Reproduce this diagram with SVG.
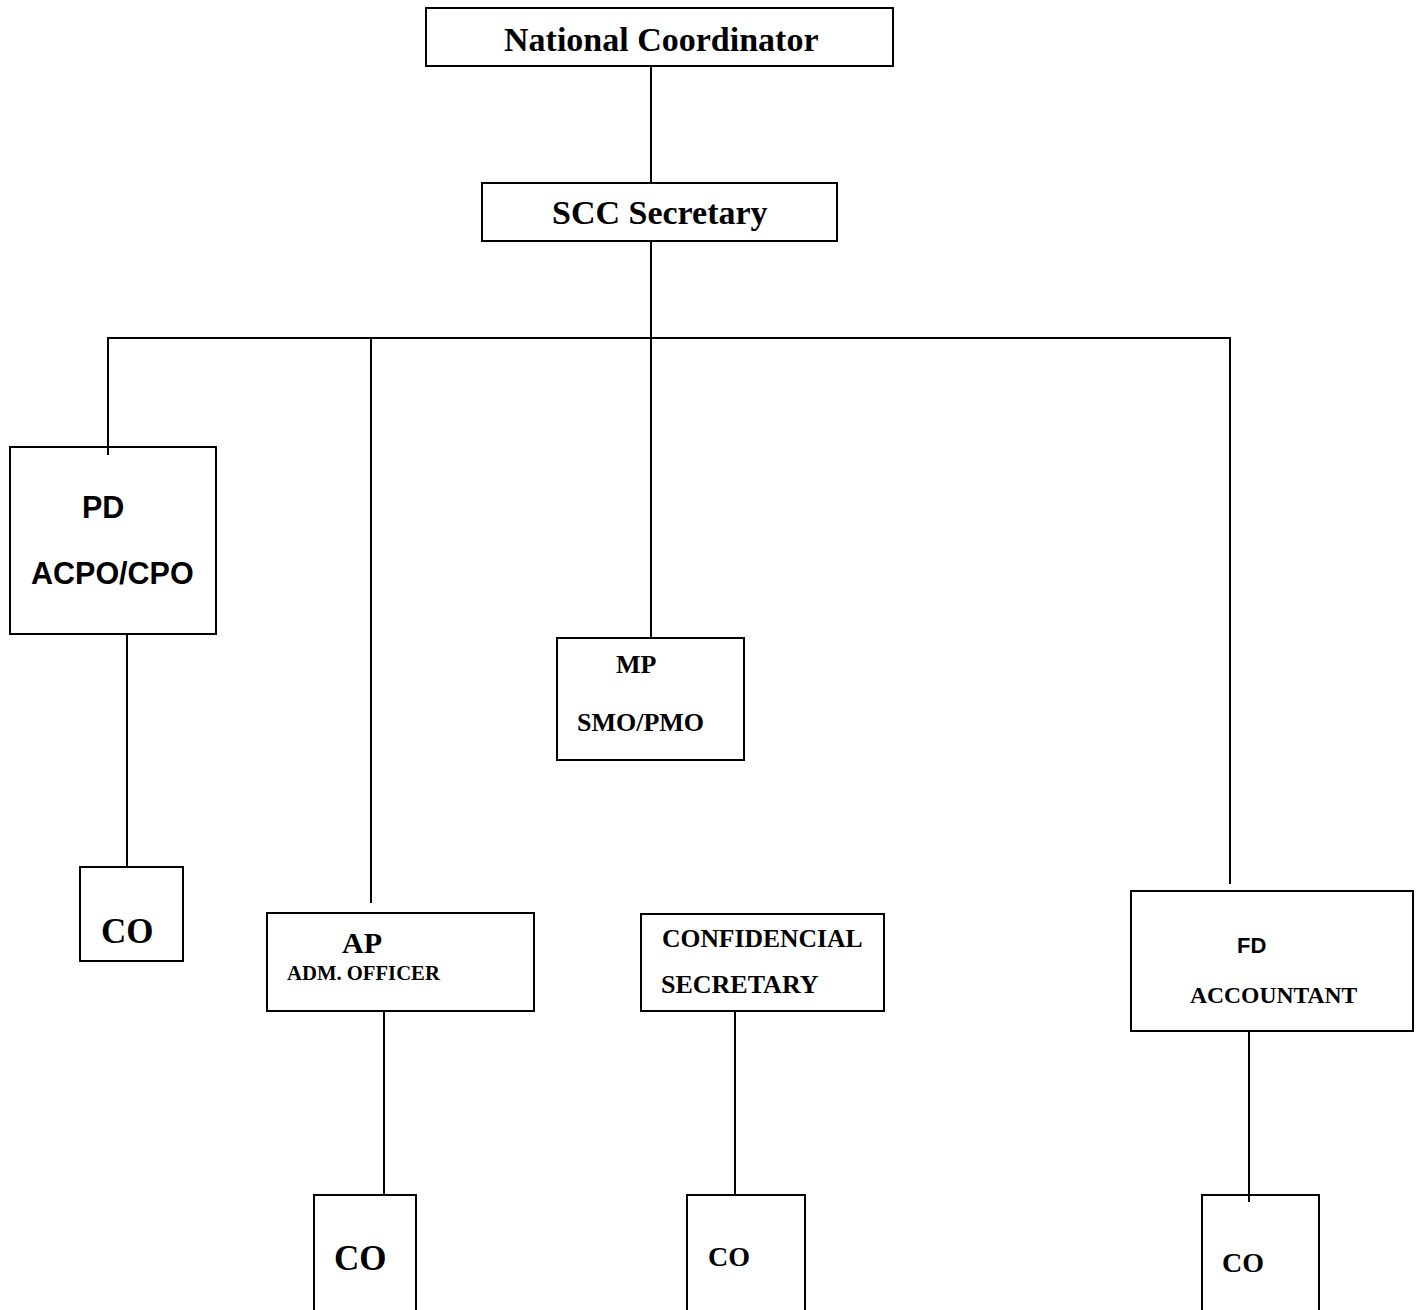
<svg xmlns="http://www.w3.org/2000/svg" width="1422" height="1310" viewBox="0 0 1422 1310">
<style>
.box{fill:#fff;stroke:#000;stroke-width:2}
.ln{stroke:#000;stroke-width:2;fill:none}
.t{font-family:"Liberation Serif","Times New Roman",serif;font-weight:bold;fill:#000}
.a{font-family:"Liberation Sans",Arial,sans-serif;font-weight:bold;fill:#000}
</style>
<rect width="1422" height="1310" fill="#fff"/>
<g id="connectors">
<line class="ln" x1="651" y1="66" x2="651" y2="183"/>
<line class="ln" x1="651" y1="241" x2="651" y2="338"/>
<line class="ln" x1="108" y1="338" x2="1230" y2="338"/>
<line class="ln" x1="108" y1="337" x2="108" y2="455"/>
<line class="ln" x1="371" y1="338" x2="371" y2="903"/>
<line class="ln" x1="651" y1="338" x2="651" y2="638"/>
<line class="ln" x1="1230" y1="337" x2="1230" y2="884"/>
<line class="ln" x1="127" y1="634" x2="127" y2="867"/>
<line class="ln" x1="384" y1="1008" x2="384" y2="1195"/>
<line class="ln" x1="735" y1="1008" x2="735" y2="1195"/>
<line class="ln" x1="1249" y1="1031" x2="1249" y2="1202"/>
</g>
<g id="national-coordinator">
<rect class="box" x="426" y="8" width="467" height="58"/>
<text class="t" x="504" y="51" font-size="34">National Coordinator</text>
</g>
<g id="scc-secretary">
<rect class="box" x="482" y="183" width="355" height="58"/>
<text class="t" x="552" y="224" font-size="34">SCC Secretary</text>
</g>
<g id="pd">
<rect class="box" x="10" y="447" width="206" height="187"/>
<line class="ln" x1="108" y1="447" x2="108" y2="455"/>
<text class="a" x="82" y="518" font-size="30.5">PD</text>
<text class="a" x="31" y="584" font-size="30.5">ACPO/CPO</text>
</g>
<g id="co-pd">
<rect class="box" x="80" y="867" width="103" height="94"/>
<text class="t" x="101" y="943" font-size="35">CO</text>
</g>
<g id="mp">
<rect class="box" x="557" y="638" width="187" height="122"/>
<text class="t" x="616" y="673" font-size="26">MP</text>
<text class="t" x="577" y="731" font-size="26">SMO/PMO</text>
</g>
<g id="ap">
<rect class="box" x="267" y="913" width="267" height="98"/>
<text class="t" x="342" y="953" font-size="30">AP</text>
<text class="t" x="287" y="980" font-size="20.7">ADM. OFFICER</text>
</g>
<g id="confidential">
<rect class="box" x="641" y="914" width="243" height="97"/>
<text class="t" x="662" y="947" font-size="25.6">CONFIDENCIAL</text>
<text class="t" x="661" y="993" font-size="26">SECRETARY</text>
</g>
<g id="fd">
<rect class="box" x="1131" y="891" width="282" height="140"/>
<text class="a" x="1237" y="953" font-size="22">FD</text>
<text class="t" x="1190" y="1003" font-size="23.6">ACCOUNTANT</text>
</g>
<g id="co-ap">
<rect class="box" x="314" y="1195" width="102" height="130"/>
<text class="t" x="334" y="1270" font-size="35">CO</text>
</g>
<g id="co-conf">
<rect class="box" x="687" y="1195" width="118" height="130"/>
<text class="t" x="708" y="1266" font-size="28">CO</text>
</g>
<g id="co-fd">
<rect class="box" x="1202" y="1195" width="117" height="130"/>
<line class="ln" x1="1249" y1="1195" x2="1249" y2="1202"/>
<text class="t" x="1222" y="1272" font-size="28">CO</text>
</g>
</svg>
